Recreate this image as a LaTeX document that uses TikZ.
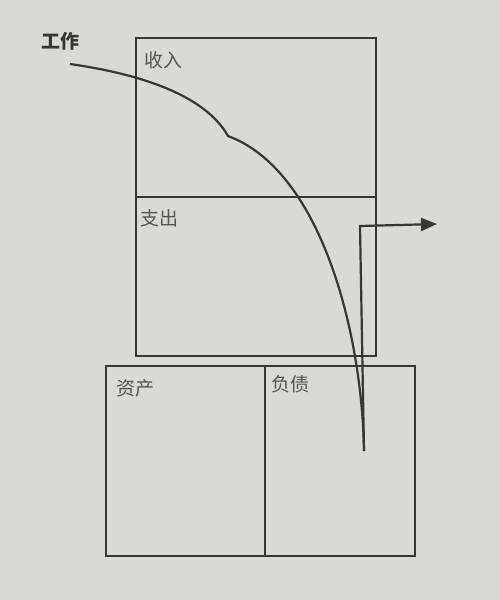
\documentclass[tikz,border=0pt]{standalone}
\usepackage{fontspec}
\newfontfamily\cjk{Noto Sans CJK SC}
\usetikzlibrary{arrows.meta}
\definecolor{paper}{HTML}{D9D9D6}
\definecolor{ink}{HTML}{363636}
\tikzset{
  box/.style={draw=ink, line width=1.2pt},
  lbl/.style={anchor=north west, inner sep=0pt, text=ink!85, font=\cjk\fontsize{19}{19}\selectfont},
  flow/.style={draw=ink, line width=2.2pt}
}
\begin{document}
\begin{tikzpicture}[x=1pt, y=-1pt]
    \fill[paper] (0,0) rectangle (500,600);
    \useasboundingbox (0,0) rectangle (500,600);

    % income statement
    \draw[box] (136,38) rectangle (376,197) node[pos=.5] (income) {};
    \draw[box] (136,197) rectangle (376,356) node[pos=.5] (expense) {};
    \node[lbl] (incomelbl) at (144,51) {收入};
    \node[lbl] (expenselbl) at (140,209) {支出};

    % balance sheet
    \draw[box] (106,366) rectangle (265,556) node[pos=.5] (asset) {};
    \draw[box] (265,366) rectangle (415,556) node[pos=.5] (liability) {};
    \node[lbl] (assetlbl) at (116,379) {资产};
    \node[lbl] (liabilitylbl) at (271,375) {负债};

    \node[lbl, text=ink, font=\cjk\bfseries\fontsize{19}{19}\selectfont] (work) at (41,32) {工作};

    \coordinate (start) at (70,64);
    \coordinate (kink) at (228,136);
    \coordinate (bottom) at (364,451);
    \coordinate (turn) at (360,226);
    \coordinate (out) at (437,224);

    \draw[flow] (start) .. controls (140,74) and (205,95) .. (kink)
      .. controls (320,170) and (362,330) .. (bottom);
    \draw[flow, -{Triangle[length=16pt, width=13pt]}] (bottom) -- (turn) -- (out);
  \end{tikzpicture}
\end{document}
